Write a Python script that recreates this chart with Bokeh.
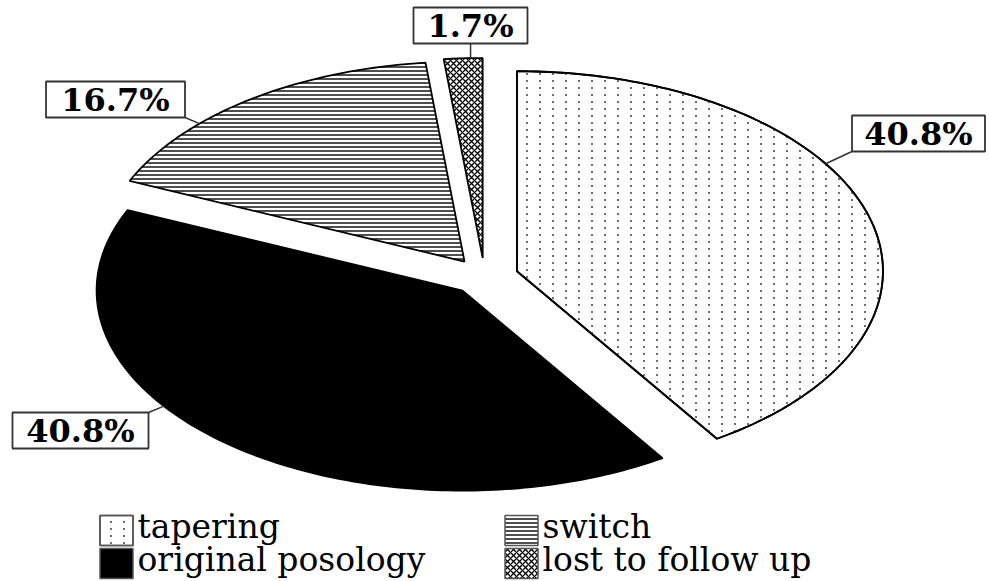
import base64
import struct
import zlib

import numpy as np
from bokeh.plotting import figure
from bokeh.models import ColumnDataSource, Range1d, ImageURLTexture
from bokeh.core.properties import value
from bokeh.embed import file_html
from bokeh.resources import INLINE

# ---- data -------------------------------------------------------------
categories = ["tapering", "original posology", "switch", "lost to follow up"]
shares = [40.8, 40.8, 16.7, 1.7]          # percent of patients

# ---- layout / style ---------------------------------------------------
W, H = 989, 581
CX, CY = 484, 276          # pie centre (px)
RX, RY = 366, 200          # horizontal / vertical radius (px)
EXPLODE = 0.0925           # wedge offset as a fraction of the radius

fills = ["white", "black", "white", "white"]
hatches = ["blank", "blank", "horizontal_line", "diagonal_cross"]
hatch_colors = ["#777777", "black", "#444444", "black"]
hatch_scales = [7, 12, 4, 6]
hatch_weights = [1.0, 1.0, 1.9, 1.3]

# value-label boxes: centre, width, and the angle where the leader meets the wedge
label_pos = [(918, 133), (80, 430), (115, 99), (470, 25)]
label_w = [133, 136, 139, 114]
label_h = 36
leader_deg = [57.5, 234.7, 313.6, 358.1]

# legend grid (row-major order of the wedges)
legend_order = [0, 2, 1, 3]
legend_cols = [116, 521]
legend_rows = [530, 563]
SW_W, SW_H = 33, 30        # legend swatch size (px)

FONT = value("DejaVu Serif")


def dot_tile(w=13, h=7, gray=110):
    """Small RGBA PNG tile holding one grey dot: columns of dots when repeated."""
    rows = []
    for y in range(h):
        row = bytearray([0])
        for x in range(w):
            if x in (6, 7) and y in (3, 4):
                row += bytes([gray, gray, gray, 255])
            else:
                row += bytes([255, 255, 255, 0])
        rows.append(bytes(row))
    raw = b"".join(rows)

    def chunk(tag, data):
        c = struct.pack(">I", len(data)) + tag + data
        return c + struct.pack(">I", zlib.crc32(tag + data) & 0xFFFFFFFF)

    png = b"\x89PNG\r\n\x1a\n"
    png += chunk(b"IHDR", struct.pack(">IIBBBBB", w, h, 8, 6, 0, 0, 0))
    png += chunk(b"IDAT", zlib.compress(raw))
    png += chunk(b"IEND", b"")
    return "data:image/png;base64," + base64.b64encode(png).decode()


dots = ImageURLTexture(url=dot_tile())


def ellipse_pt(theta, cx, cy):
    return cx + RX * np.sin(theta), cy - RY * np.cos(theta)


total = float(sum(shares))
bounds = np.concatenate([[0.0], np.cumsum(shares)]) / total * 2 * np.pi

xs, ys, centres = [], [], []
for i in range(len(shares)):
    a0, a1 = bounds[i], bounds[i + 1]
    mid = 0.5 * (a0 + a1)
    cx = CX + EXPLODE * RX * np.sin(mid)
    cy = CY - EXPLODE * RY * np.cos(mid)
    centres.append((cx, cy))
    n = max(6, int(np.degrees(a1 - a0)))
    th = np.linspace(a0, a1, n)
    px, py = ellipse_pt(th, cx, cy)
    xs.append([cx] + list(px))
    ys.append([cy] + list(py))

src = ColumnDataSource(dict(
    xs=xs, ys=ys, name=categories, fill=fills, hatch=hatches,
    hcolor=hatch_colors, hscale=hatch_scales, hweight=hatch_weights,
))

p = figure(width=W, height=H, x_range=Range1d(0, W), y_range=Range1d(H, 0),
           x_axis_type=None, y_axis_type=None, output_backend="svg",
           toolbar_location=None, min_border=0)
p.grid.visible = False
p.outline_line_color = None

p.patches("xs", "ys", source=src, fill_color="fill", line_color="black",
          line_width=1.8, hatch_pattern="hatch", hatch_color="hcolor",
          hatch_scale="hscale", hatch_weight="hweight")

# dotted texture of the tapering wedge
p.patch(xs[0], ys[0], fill_alpha=0, line_color="black", line_width=1.8,
        hatch_pattern="taper_dots", hatch_extra={"taper_dots": dots})

# ---- value labels with leader lines -----------------------------------
lx0, ly0, lx1, ly1 = [], [], [], []
for i in range(len(shares)):
    cx, cy = centres[i]
    ex, ey = ellipse_pt(np.radians(leader_deg[i]), cx, cy)
    bx, by = label_pos[i]
    hw, hh = label_w[i] / 2, label_h / 2
    lx0.append(ex)
    ly0.append(ey)
    lx1.append(min(max(ex, bx - hw), bx + hw))
    ly1.append(min(max(ey, by - hh), by + hh))
p.segment(lx0, ly0, lx1, ly1, line_color="#333333", line_width=1.5)

lab = ColumnDataSource(dict(
    x=[q[0] for q in label_pos], y=[q[1] for q in label_pos], w=label_w,
    text=[f"{s:.1f}%" for s in shares],
))
p.rect("x", "y", width="w", height=label_h, width_units="screen",
       height_units="screen", source=lab, fill_color="white",
       line_color="#333333", line_width=1.8)
p.text("x", "y", text="text", source=lab, text_font=FONT,
       text_font_style="bold", text_font_size="32px", text_align="center",
       text_baseline="middle", text_color="black")

# ---- legend -----------------------------------------------------------
leg = dict(x=[], y=[], tx=[], ty=[], name=[], fill=[], hatch=[], hcolor=[],
           hscale=[], hweight=[])
for k, i in enumerate(legend_order):
    col, row = k % 2, k // 2
    leg["x"].append(legend_cols[col])
    leg["y"].append(legend_rows[row])
    leg["tx"].append(legend_cols[col] + 21)
    leg["ty"].append(legend_rows[row] - 4)
    leg["name"].append(categories[i])
    leg["fill"].append(fills[i])
    leg["hatch"].append(hatches[i])
    leg["hcolor"].append(hatch_colors[i])
    leg["hscale"].append(hatch_scales[i])
    leg["hweight"].append(hatch_weights[i])
leg_src = ColumnDataSource(leg)
p.rect("x", "y", width=SW_W, height=SW_H, width_units="screen",
       height_units="screen", source=leg_src, fill_color="fill",
       line_color="#555555", line_width=1.5, hatch_pattern="hatch",
       hatch_color="hcolor", hatch_scale="hscale", hatch_weight="hweight")

# dotted swatch for "tapering", drawn as a patch like its wedge
sx0, sy0 = legend_cols[0], legend_rows[0]
p.patch([sx0 - SW_W / 2, sx0 + SW_W / 2, sx0 + SW_W / 2, sx0 - SW_W / 2],
        [sy0 - SW_H / 2, sy0 - SW_H / 2, sy0 + SW_H / 2, sy0 + SW_H / 2],
        fill_alpha=0, line_color="#555555", line_width=1.5,
        hatch_pattern="taper_dots", hatch_extra={"taper_dots": dots})

p.text("tx", "ty", text="name", source=leg_src, text_font=FONT,
       text_font_size="33px", text_align="left", text_baseline="middle",
       text_color="black")

open("out.html", "w").write(file_html(p, INLINE))
